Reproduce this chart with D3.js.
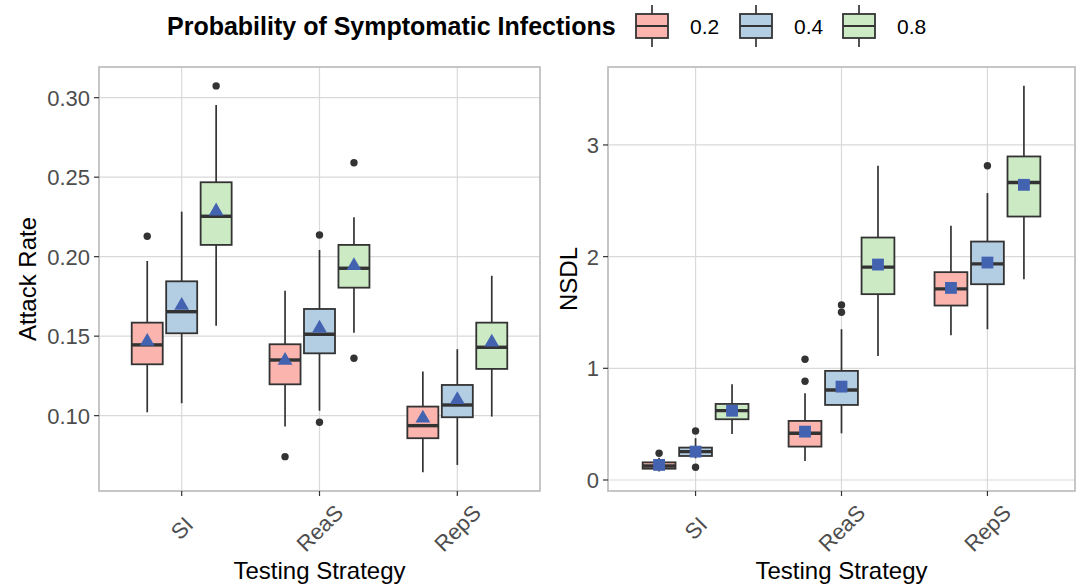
<!DOCTYPE html>
<html>
<head>
<meta charset="utf-8">
<script src="https://cdn.jsdelivr.net/npm/d3@7"></script>
<style>
  body { margin: 0; background: #fff; }
  text { font-family: "Liberation Sans", Arial, sans-serif; }
</style>
</head>
<body>
<svg id="chart" width="1090" height="587"></svg>
<script>
// categories
var strategies = ["SI", "ReaS", "RepS"];
var probs = ["0.2", "0.4", "0.8"];
var fills = ["#FBB4AE", "#B3CDE3", "#CCEBC5"];

// box stats per strategy x prob: [lowWhisker, q1, median, q3, highWhisker, mean]
var attackStats = [
  [0.1021, 0.1323, 0.1445, 0.1585, 0.1973, 0.1460],
  [0.1078, 0.1518, 0.1654, 0.1845, 0.2283, 0.1686],
  [0.1566, 0.2074, 0.2254, 0.2468, 0.2954, 0.2280],
  [0.0931, 0.1197, 0.1350, 0.1449, 0.1786, 0.1340],
  [0.1031, 0.1392, 0.1512, 0.1671, 0.2042, 0.1543],
  [0.1522, 0.1805, 0.1927, 0.2074, 0.2248, 0.1937],
  [0.0644, 0.0858, 0.0937, 0.1057, 0.1277, 0.0977],
  [0.0690, 0.0990, 0.1067, 0.1193, 0.1418, 0.1094],
  [0.0994, 0.1294, 0.1430, 0.1585, 0.1880, 0.1455]
];
// outliers: [strategyIndex, probIndex, value]
var attackOutliers = [
  [0, 0, 0.2128], [0, 2, 0.3074],
  [1, 0, 0.0742], [1, 1, 0.2136], [1, 1, 0.0958], [1, 2, 0.2591], [1, 2, 0.1361]
];

var nsdlStats = [
  [0.075, 0.101, 0.125, 0.158, 0.200, 0.135],
  [0.194, 0.215, 0.254, 0.290, 0.374, 0.254],
  [0.412, 0.544, 0.621, 0.681, 0.857, 0.620],
  [0.170, 0.299, 0.418, 0.529, 0.777, 0.433],
  [0.418, 0.672, 0.806, 0.977, 1.350, 0.836],
  [1.111, 1.664, 1.906, 2.171, 2.814, 1.929],
  [1.296, 1.562, 1.711, 1.861, 2.276, 1.720],
  [1.350, 1.753, 1.935, 2.135, 2.569, 1.947],
  [1.798, 2.359, 2.664, 2.897, 3.530, 2.643]
];
var nsdlOutliers = [
  [0, 0, 0.239], [0, 1, 0.439], [0, 1, 0.114],
  [1, 0, 1.081], [1, 0, 0.884], [1, 1, 1.568], [1, 1, 1.502],
  [2, 1, 2.814]
];

var attackTicks = [0.10, 0.15, 0.20, 0.25, 0.30];
var nsdlTicks = [0, 1, 2, 3];

var svg = d3.select("#chart");
var meanColor = "#4363B0";
var boxLine = "#333333";

function drawPanel(opt) {
  var g = svg.append("g");
  // ggplot discrete expansion: 0.6 units each side
  var unit = (opt.right - opt.left) / 3.2;
  var xc = function(s) { return opt.left + unit * (0.6 + strategies.indexOf(s)); };
  var y = d3.scaleLinear().domain(opt.domain).range([opt.bottom, opt.top]);

  var dodge = unit * 0.25, bw = unit * 0.225;

  // major grid
  g.selectAll(".gy").data(opt.ticks).enter().append("line")
    .attr("x1", opt.left).attr("x2", opt.right)
    .attr("y1", function(d) { return y(d); }).attr("y2", function(d) { return y(d); })
    .attr("stroke", "#d9d9d9").attr("stroke-width", 1.2);
  g.selectAll(".gx").data(strategies).enter().append("line")
    .attr("x1", xc).attr("x2", xc)
    .attr("y1", opt.top).attr("y2", opt.bottom)
    .attr("stroke", "#d9d9d9").attr("stroke-width", 1.2);

  // boxes
  opt.stats.forEach(function(s, k) {
    var si = Math.floor(k / 3), pi = k % 3;
    var cx = xc(strategies[si]) + (pi - 1) * dodge;
    var bg = g.append("g");
    bg.append("line").attr("x1", cx).attr("x2", cx)
      .attr("y1", y(s[0])).attr("y2", y(s[1]))
      .attr("stroke", boxLine).attr("stroke-width", 1.7);
    bg.append("line").attr("x1", cx).attr("x2", cx)
      .attr("y1", y(s[3])).attr("y2", y(s[4]))
      .attr("stroke", boxLine).attr("stroke-width", 1.7);
    bg.append("rect")
      .attr("x", cx - bw / 2).attr("width", bw)
      .attr("y", y(s[3])).attr("height", y(s[1]) - y(s[3]))
      .attr("fill", fills[pi]).attr("stroke", boxLine).attr("stroke-width", 1.8);
    bg.append("line").attr("x1", cx - bw / 2).attr("x2", cx + bw / 2)
      .attr("y1", y(s[2])).attr("y2", y(s[2]))
      .attr("stroke", boxLine).attr("stroke-width", 3.4);
  });

  // outliers
  g.selectAll(".out").data(opt.outliers).enter().append("circle")
    .attr("cx", function(d) { return xc(strategies[d[0]]) + (d[1] - 1) * dodge; })
    .attr("cy", function(d) { return y(d[2]); })
    .attr("r", 3.7).attr("fill", boxLine);

  // means
  var sym = d3.symbol().type(opt.shape === "triangle" ? d3.symbolTriangle : d3.symbolSquare)
    .size(opt.shape === "triangle" ? 95 : 140);
  g.selectAll(".mean").data(opt.stats).enter().append("path")
    .attr("d", sym)
    .attr("transform", function(d, k) {
      var cx = xc(strategies[Math.floor(k / 3)]) + (k % 3 - 1) * dodge;
      var dy = opt.shape === "triangle" ? -1 : 0;
      return "translate(" + cx + "," + (y(d[5]) + dy) + ")";
    })
    .attr("fill", meanColor);

  // border
  g.append("rect").attr("x", opt.left).attr("y", opt.top)
    .attr("width", opt.right - opt.left).attr("height", opt.bottom - opt.top)
    .attr("fill", "none").attr("stroke", "#bdbdbd").attr("stroke-width", 1.7);

  // y axis ticks and labels
  g.selectAll(".ty").data(opt.ticks).enter().append("line")
    .attr("x1", opt.left - 5).attr("x2", opt.left)
    .attr("y1", function(d) { return y(d); }).attr("y2", function(d) { return y(d); })
    .attr("stroke", "#333").attr("stroke-width", 1.2);
  g.selectAll(".ly").data(opt.ticks).enter().append("text")
    .attr("x", opt.left - 9).attr("y", function(d) { return y(d); })
    .attr("dy", "0.36em").attr("text-anchor", "end")
    .attr("font-size", 22).attr("fill", "#4d4d4d")
    .text(opt.fmt);

  // x axis ticks and labels
  g.selectAll(".tx").data(strategies).enter().append("line")
    .attr("x1", xc).attr("x2", xc)
    .attr("y1", opt.bottom).attr("y2", opt.bottom + 5)
    .attr("stroke", "#333").attr("stroke-width", 1.2);
  g.selectAll(".lx").data(strategies).enter().append("text")
    .attr("transform", function(d) { return "translate(" + xc(d) + ",528) rotate(-45)"; })
    .attr("dy", "0.36em").attr("text-anchor", "middle")
    .attr("font-size", 22).attr("fill", "#4d4d4d")
    .text(function(d) { return d; });

  // titles
  g.append("text")
    .attr("x", (opt.left + opt.right) / 2).attr("y", 579)
    .attr("text-anchor", "middle").attr("font-size", 24).attr("fill", "#000")
    .text("Testing Strategy");
  g.append("text")
    .attr("transform", "translate(" + opt.titleX + "," + ((opt.top + opt.bottom) / 2) + ") rotate(-90)")
    .attr("text-anchor", "middle").attr("font-size", 24).attr("fill", "#000")
    .text(opt.yTitle);
}

drawPanel({
  left: 99, right: 540, top: 67, bottom: 491,
  domain: [0.0526, 0.3193], ticks: attackTicks,
  fmt: d3.format(".2f"),
  stats: attackStats, outliers: attackOutliers, shape: "triangle",
  yTitle: "Attack Rate", titleX: 36
});
drawPanel({
  left: 608, right: 1075, top: 67, bottom: 491,
  domain: [-0.0986, 3.698], ticks: nsdlTicks,
  fmt: d3.format("d"),
  stats: nsdlStats, outliers: nsdlOutliers, shape: "square",
  yTitle: "NSDL", titleX: 577
});

// legend
var legend = svg.append("g");
legend.append("text")
  .attr("x", 167).attr("y", 26).attr("dy", "0.36em")
  .attr("font-size", 25).attr("font-weight", "bold").attr("fill", "#000")
  .text("Probability of Symptomatic Infections");
var keyX = [636, 740, 843];
probs.forEach(function(p, i) {
  var kx = keyX[i], kw = 32;
  legend.append("line").attr("x1", kx + kw / 2).attr("x2", kx + kw / 2)
    .attr("y1", 5).attr("y2", 47).attr("stroke", boxLine).attr("stroke-width", 1.7);
  legend.append("rect").attr("x", kx).attr("y", 14).attr("width", kw).attr("height", 24)
    .attr("fill", fills[i]).attr("stroke", boxLine).attr("stroke-width", 1.8);
  legend.append("line").attr("x1", kx).attr("x2", kx + kw)
    .attr("y1", 26).attr("y2", 26).attr("stroke", boxLine).attr("stroke-width", 2);
  legend.append("text").attr("x", kx + kw + 22).attr("y", 26).attr("dy", "0.36em")
    .attr("font-size", 21).attr("fill", "#000").text(p);
});
</script>
</body>
</html>
